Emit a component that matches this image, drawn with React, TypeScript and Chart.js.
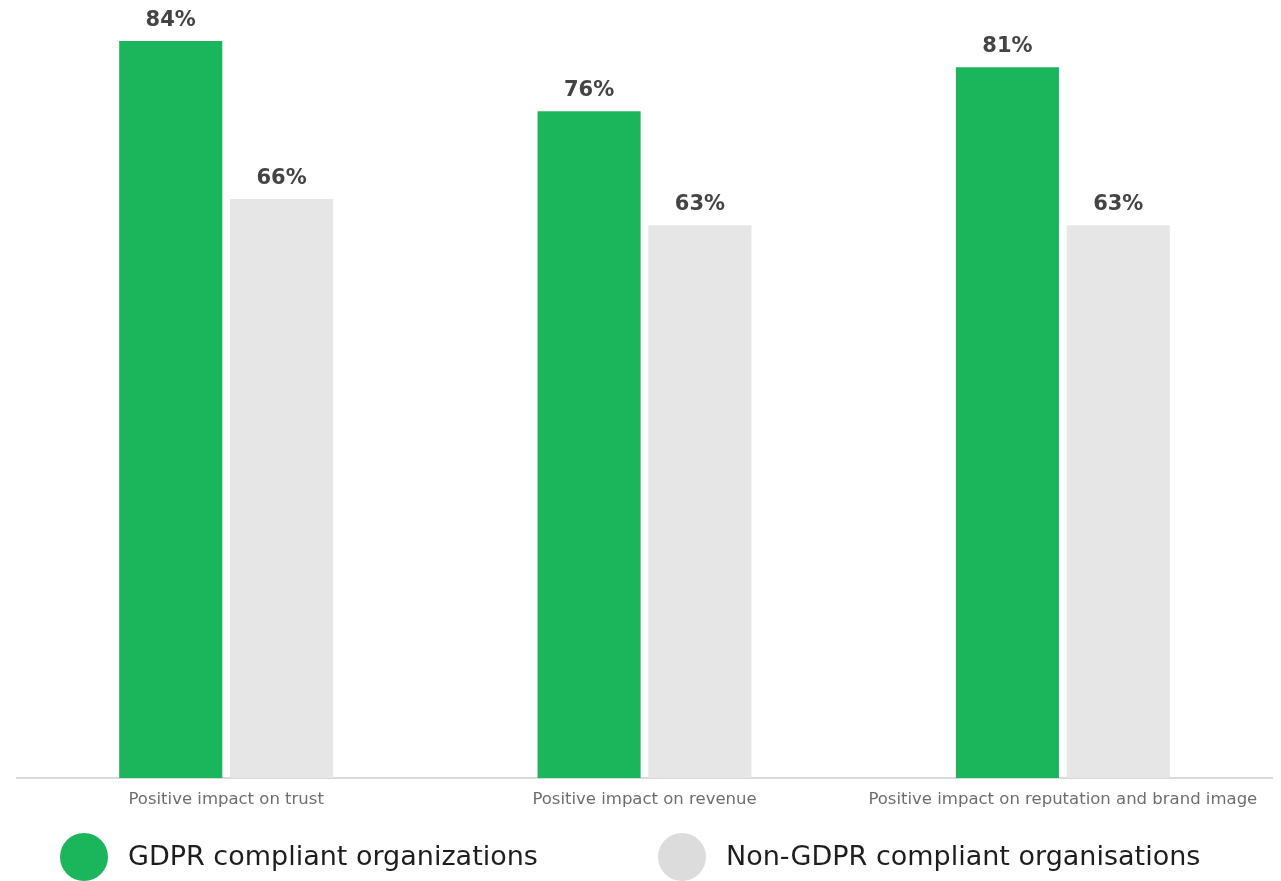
import React, { useEffect, useRef } from "react";
import { Chart, registerables } from "chart.js";

Chart.register(...registerables);

const categories = [
  "Positive impact on trust",
  "Positive impact on revenue",
  "Positive impact on reputation and brand image",
];
const gdprCompliant = [84, 76, 81];
const nonGdprCompliant = [66, 63, 63];
const seriesLabels = ["GDPR compliant organizations", "Non-GDPR compliant organisations"];
const seriesColors = ["#1BB65B", "#E6E6E6"];
const legendCircleColors = ["#1BB65B", "#DCDCDC"];

const FONT = "'DejaVu Sans', 'Open Sans', sans-serif";

const valueLabelPlugin = {
  id: "valueLabels",
  afterDatasetsDraw(chart: any) {
    const ctx = chart.ctx;
    ctx.save();
    ctx.font = `bold 21px ${FONT}`;
    ctx.fillStyle = "#444444";
    ctx.textAlign = "center";
    ctx.textBaseline = "bottom";
    chart.data.datasets.forEach((ds: any, di: number) => {
      const meta = chart.getDatasetMeta(di);
      meta.data.forEach((el: any, i: number) => {
        ctx.fillText(`${ds.data[i]}%`, el.x, el.y - 10);
      });
    });
    ctx.restore();
  },
};

const legendSlots = [84, 682];

const customLegendPlugin = {
  id: "customLegend",
  afterDraw(chart: any) {
    const ctx = chart.ctx;
    const cy = chart.height - 24;
    ctx.save();
    chart.data.datasets.forEach((ds: any, di: number) => {
      const cx = legendSlots[di];
      ctx.beginPath();
      ctx.fillStyle = legendCircleColors[di];
      ctx.arc(cx, cy, 24, 0, Math.PI * 2);
      ctx.fill();
      ctx.font = `27px ${FONT}`;
      ctx.fillStyle = "#1e1e1e";
      ctx.textAlign = "left";
      ctx.textBaseline = "middle";
      ctx.fillText(ds.label, cx + 44, cy + 1);
    });
    ctx.restore();
  },
};

export default function App() {
  const canvasRef = useRef<HTMLCanvasElement | null>(null);

  useEffect(() => {
    if (!canvasRef.current) return;
    const chart = new Chart(canvasRef.current, {
      type: "bar",
      data: {
        labels: categories,
        datasets: [
          {
            label: seriesLabels[0],
            data: gdprCompliant,
            backgroundColor: seriesColors[0],
            borderWidth: 0,
          },
          {
            label: seriesLabels[1],
            data: nonGdprCompliant,
            backgroundColor: seriesColors[1],
            borderWidth: 0,
          },
        ],
      },
      options: {
        animation: false,
        responsive: true,
        maintainAspectRatio: false,
        datasets: {
          bar: { categoryPercentage: 0.53, barPercentage: 0.93 },
        },
        layout: { padding: { left: 17, right: 9, top: 41, bottom: 0 } },
        plugins: {
          legend: { display: false },
          tooltip: { enabled: false },
        },
        scales: {
          x: {
            grid: { display: false, drawTicks: false },
            border: { display: true, color: "#d9d9d9", width: 2 },
            ticks: {
              color: "#6e6e6e",
              font: { family: FONT, size: 16.5 },
              padding: 12,
              maxRotation: 0,
              autoSkip: false,
            },
            afterFit: (scale: any) => {
              scale.height = 103;
            },
          },
          y: { display: false, min: 0, max: 84 },
        },
      },
      plugins: [valueLabelPlugin, customLegendPlugin],
    });
    return () => chart.destroy();
  }, []);

  return (
    <div style={{ position: "fixed", left: 0, top: 0, width: 1281, height: 881, background: "#ffffff" }}>
      <canvas ref={canvasRef} />
    </div>
  );
}
